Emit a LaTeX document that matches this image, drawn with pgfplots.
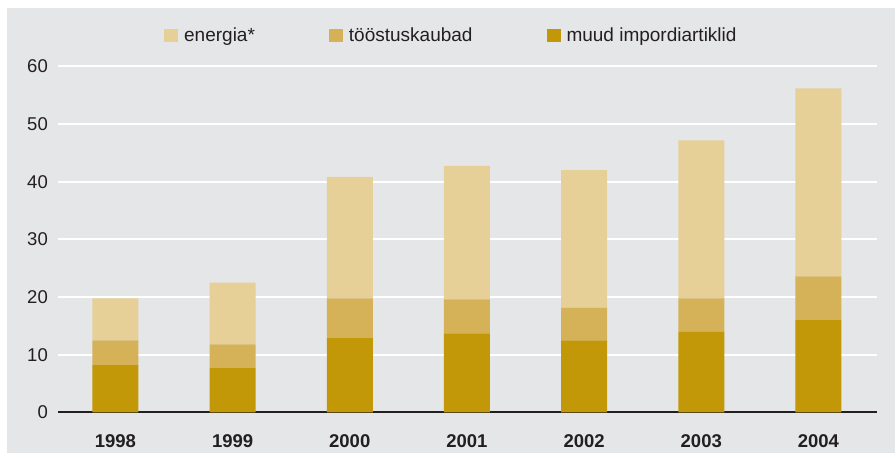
\documentclass[border=0pt]{standalone}
\usepackage{pgfplots}
\pgfplotsset{compat=1.18}
\usepackage{fontspec}
\setmainfont{Liberation Sans}
\definecolor{bg}{HTML}{E5E6E8}
\definecolor{cEn}{HTML}{E7CF98}
\definecolor{cTo}{HTML}{D5B257}
\definecolor{cMu}{HTML}{C29808}
\definecolor{txt}{HTML}{231F20}
\begin{document}
\begin{tikzpicture}[x=1pt,y=1pt]
\fill[white] (0,0) rectangle (895,455);
\fill[bg] (7,2) rectangle (895,447);
\begin{axis}[
  at={(58pt,42.5pt)}, anchor=south west,
  scale only axis, width=819pt, height=346pt,
  xmin=-0.49, xmax=6.5, ymin=0, ymax=60,
  ytick={0,10,...,60},
  xtick={0,...,6},
  xticklabels={1998,1999,2000,2001,2002,2003,2004},
  axis x line=bottom, axis y line=left,
  x axis line style={draw=txt, line width=2pt, -},
  y axis line style={draw=none},
  major tick length=0pt,
  ymajorgrids, grid style={white, line width=2pt},
  axis on top=false,
  font=\fontsize{18.5}{21}\selectfont,
  /pgf/number format/assume math mode=true,
  yticklabel style={anchor=east, inner sep=0pt, xshift=-10pt, text=txt},
  xticklabel style={anchor=north, inner sep=0pt, yshift=-22pt, text=txt, font=\fontsize{18.5}{21}\selectfont\bfseries},
  ybar stacked, bar width=46pt,
  area legend,
  legend columns=3, reverse legend,
  legend style={draw=none, fill=none, at={(rel axis cs:0.1294,1.091)}, anchor=west, inner sep=0pt,
    nodes={inner sep=0pt, text=txt, font=\fontsize{19}{21}\selectfont},
    /tikz/every odd column/.append style={column sep=6pt},
    /tikz/every even column/.append style={column sep=74pt}},
  legend image code/.code={\fill[#1] (0pt,-6.5pt) rectangle (14pt,6.5pt);},
]
\addplot[fill=cMu, draw=none] coordinates {(0,8.2) (1,7.8) (2,12.9) (3,13.7) (4,12.5) (5,14.0) (6,16.1)};
\addplot[fill=cTo, draw=none] coordinates {(0,4.3) (1,4.0) (2,6.9) (3,5.9) (4,5.7) (5,5.8) (6,7.5)};
\addplot[fill=cEn, draw=none] coordinates {(0,7.3) (1,10.7) (2,21.05) (3,23.15) (4,23.85) (5,27.4) (6,32.6)};
\legend{muud impordiartiklid, tööstuskaubad, energia*}
\end{axis}
\end{tikzpicture}
\end{document}
